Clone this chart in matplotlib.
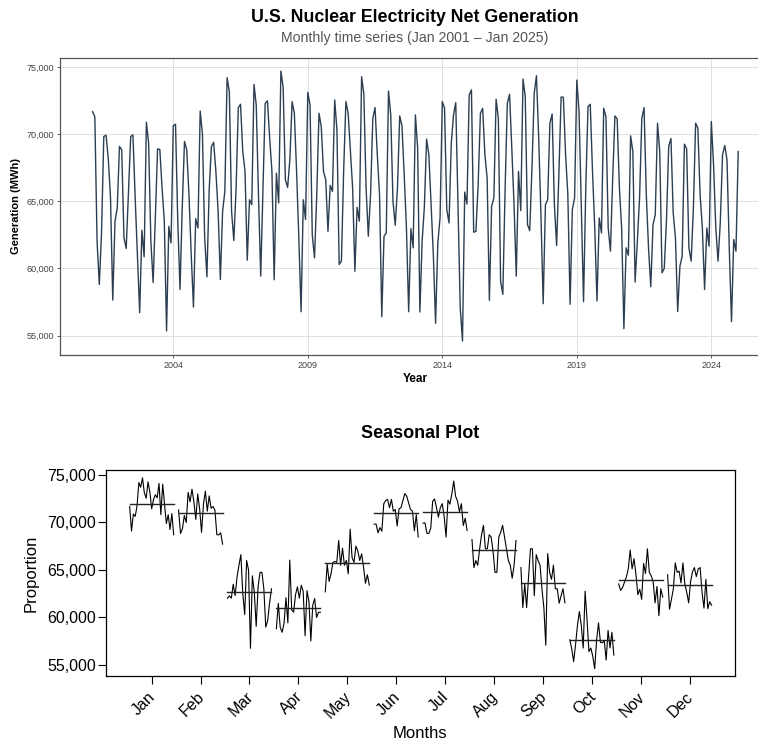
import numpy as np
import matplotlib
matplotlib.use("Agg")
import matplotlib.pyplot as plt
from matplotlib.ticker import FuncFormatter

plt.rcParams['font.family'] = ['Liberation Sans', 'DejaVu Sans']

# ---- data (monthly net generation, Jan 2001 - Jan 2025) ----
gen_2001 = [71680, 71310, 62030, 58810, 62700, 69830, 69930, 68200, 65250, 57650, 63520, 64500]
gen_2002 = [69090, 68840, 62280, 61490, 65600, 69830, 69950, 65250, 61040, 56710, 62850, 60870]
gen_2003 = [70890, 69330, 62030, 58960, 63800, 68910, 68860, 65990, 63520, 55350, 63140, 61910]
gen_2004 = [70640, 70740, 63500, 58440, 64600, 69460, 68840, 65500, 61040, 57130, 63710, 63020]
gen_2005 = [71730, 70000, 62300, 59380, 65800, 69080, 69400, 67230, 64260, 59180, 64260, 65740]
gen_2006 = [74210, 73170, 64260, 62080, 65900, 71980, 72230, 68710, 67230, 60620, 65120, 64750]
gen_2007 = [73710, 72180, 65500, 59430, 65800, 72300, 72480, 69700, 67230, 59160, 67100, 64880]
gen_2008 = [74700, 73500, 66610, 66040, 68100, 72430, 71560, 67230, 62280, 56780, 65120, 63640]
gen_2009 = [73120, 72180, 62500, 60790, 65500, 71560, 70570, 67230, 66610, 62770, 66190, 65740]
gen_2010 = [72550, 70320, 60300, 60550, 67300, 72430, 71560, 68710, 65990, 59800, 64560, 63520]
gen_2011 = [74280, 73000, 65990, 62400, 65500, 71190, 71980, 68470, 65500, 56410, 62400, 62650]
gen_2012 = [73220, 71440, 65000, 63220, 66000, 71360, 70640, 66980, 63020, 56780, 62970, 61540]
gen_2013 = [71440, 68960, 56760, 62030, 64600, 69630, 68470, 64750, 61040, 55920, 61910, 63760]
gen_2014 = [72430, 71930, 64380, 63390, 69300, 71440, 72350, 64750, 57080, 54600, 65690, 64800]
gen_2015 = [72920, 73300, 62700, 62770, 66300, 71560, 71930, 68470, 66730, 57630, 64630, 65250]
gen_2016 = [72600, 71190, 59060, 58070, 65800, 72300, 72970, 68960, 64750, 59430, 67230, 64310]
gen_2017 = [74110, 72800, 63270, 62820, 67500, 73040, 74360, 69700, 64010, 57380, 64750, 65120]
gen_2018 = [70820, 71500, 64750, 61710, 67000, 72770, 72750, 68470, 65500, 57330, 64380, 65250]
gen_2019 = [74030, 71680, 64750, 57530, 66000, 72050, 72230, 67230, 63020, 57580, 63760, 62650]
gen_2020 = [71930, 71300, 63020, 61290, 66700, 71360, 71140, 65990, 63020, 55520, 61540, 60990]
gen_2021 = [69880, 68710, 58990, 62000, 65300, 71190, 71980, 65500, 61500, 58640, 63270, 64010]
gen_2022 = [70820, 68700, 59680, 60000, 63600, 69120, 69680, 64130, 62280, 56800, 60180, 60920]
gen_2023 = [69260, 68910, 61540, 60550, 64500, 70820, 70450, 65500, 63020, 58440, 63020, 61660]
gen_2024 = [70940, 67720, 63020, 60550, 63400, 68470, 69160, 68100, 61540, 56040, 62150, 61290]
gen_2025 = [68710]

generation = (gen_2001 + gen_2002 + gen_2003 + gen_2004 + gen_2005 + gen_2006 +
              gen_2007 + gen_2008 + gen_2009 + gen_2010 + gen_2011 + gen_2012 +
              gen_2013 + gen_2014 + gen_2015 + gen_2016 + gen_2017 + gen_2018 +
              gen_2019 + gen_2020 + gen_2021 + gen_2022 + gen_2023 + gen_2024 + gen_2025)
start_year = 2001
month_labels = ['Jan', 'Feb', 'Mar', 'Apr', 'May', 'Jun',
                'Jul', 'Aug', 'Sep', 'Oct', 'Nov', 'Dec']
year_ticks = [2004, 2009, 2014, 2019, 2024]
value_ticks = [55000, 60000, 65000, 70000, 75000]

values = np.array(generation, dtype=float)
n = len(values)
t = start_year + np.arange(n) / 12.0

W, H = 758, 744
fig = plt.figure(figsize=(W / 100, H / 100), dpi=100)


def rect(x0, y0, x1, y1):
    return [x0 / W, 1 - y1 / H, (x1 - x0) / W, (y1 - y0) / H]


comma = FuncFormatter(lambda v, p: f"{int(round(v)):,}")

# ---- top panel: time series ----
ax1 = fig.add_axes(rect(60.3, 57.6, 770.5, 354.5))
ax1.plot(t, values, color='#2c3e50', lw=1.0)
span = t[-1] - t[0]
ax1.set_xlim(t[0] - 0.05 * span, t[-1] + 0.05 * span)
vr = values.max() - values.min()
ax1.set_ylim(values.min() - 0.05 * vr, values.max() + 0.05 * vr)
ax1.set_xticks(year_ticks)
ax1.set_xticklabels([str(y) for y in year_ticks])
ax1.set_yticks(value_ticks)
ax1.yaxis.set_major_formatter(comma)
ax1.grid(True, color='#e0e0e0', lw=0.7)
ax1.set_axisbelow(True)
for s in ax1.spines.values():
    s.set_color('#555555')
    s.set_linewidth(0.9)
ax1.tick_params(axis='both', labelsize=6.5, colors='#444444', length=2.5, width=0.6, pad=2)
ax1.set_xlabel('Year', fontsize=8.5, fontweight='bold', labelpad=2)
ax1.set_ylabel('Generation (MWh)', fontsize=8, fontweight='bold', labelpad=4)

fig.text(415 / W, 1 - 18 / H, 'U.S. Nuclear Electricity Net Generation',
         ha='center', va='center', fontsize=12.8, fontweight='bold')
fig.text(415 / W, 1 - 38 / H, 'Monthly time series (Jan 2001 \u2013 Jan 2025)',
         ha='center', va='center', fontsize=10.2, color='#555555')

# ---- bottom panel: seasonal (month) plot ----
ax2 = fig.add_axes(rect(106.4, 470.2, 734.9, 676.4))
phase = np.arange(n) % 12
for m in range(12):
    sub = values[phase == m]
    xs = np.linspace(m + 1 - 0.45, m + 1 + 0.45, len(sub))
    ax2.plot(xs, sub, color='black', lw=0.8)
    ax2.plot([m + 1 - 0.45, m + 1 + 0.45], [sub.mean(), sub.mean()], color='#222222', lw=1.0)
xr = 12.45 - 0.55
ax2.set_xlim(0.55 - 0.04 * xr, 12.45 + 0.04 * xr)
ax2.set_ylim(values.min() - 0.04 * vr, values.max() + 0.04 * vr)
ax2.set_xticks(range(1, 13))
ax2.set_xticklabels([])
ax2.set_yticks(value_ticks)
ax2.yaxis.set_major_formatter(comma)
ax2.tick_params(axis='both', labelsize=11.5, length=5.5, width=0.8, pad=2)
for s in ax2.spines.values():
    s.set_color('black')
    s.set_linewidth(0.9)
for m, lab in enumerate(month_labels):
    ax2.annotate(lab, xy=(m + 1, 0), xycoords=('data', 'axes fraction'),
                 xytext=(1, -13), textcoords='offset points',
                 ha='right', va='center', rotation=45, rotation_mode='anchor',
                 fontsize=11.5)
ax2.set_ylabel('Proportion', fontsize=12, labelpad=6)
fig.text(420 / W, 1 - 733 / H, 'Months', ha='center', va='center', fontsize=12)
fig.text(420 / W, 1 - 433 / H, 'Seasonal Plot', ha='center', va='center',
         fontsize=13, fontweight='bold')

fig.savefig('out.png', dpi=100)
